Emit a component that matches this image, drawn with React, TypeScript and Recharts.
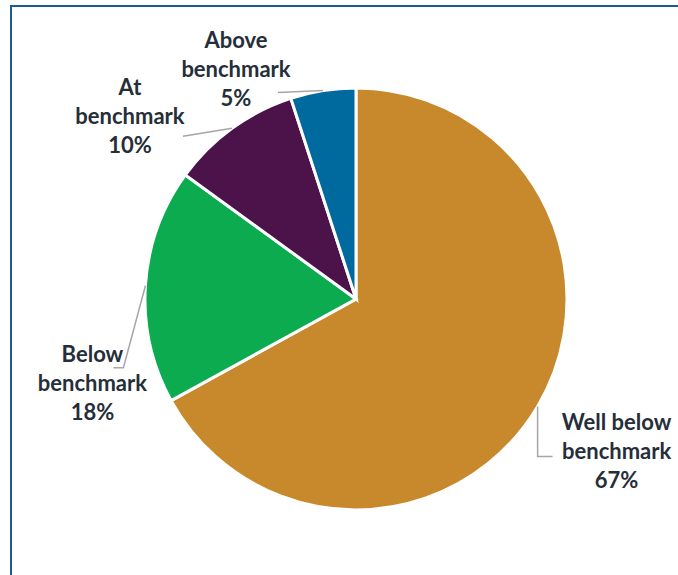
import { Cell, Pie, PieChart } from "recharts";

const categories = ["Well below\nbenchmark", "Below\nbenchmark", "At\nbenchmark", "Above\nbenchmark"];
const shares = [67, 18, 10, 5];
const colors = ["#C8892C", "#0DAB4F", "#4B1349", "#006A9E"];

// label placement relative to the point where the leader leaves the slice edge
const labelOffsets = [
  { tx: 79, ty: 24, line: [[0, 50], [15, 50]] },
  { tx: -53, ty: 76, line: [[-22, 82], [-32, 82]] },
  { tx: -102, ty: -33, line: [[-49, 8]] },
  { tx: -87, ty: -43, line: [[-45, 2]] },
];

const data = categories.map((name, i) => ({ name, value: shares[i] }));
const RADIAN = Math.PI / 180;
const textColor = "#252E39";

function renderLabel(props: any) {
  const { cx, cy, midAngle, outerRadius, index } = props;
  const ex = cx + outerRadius * Math.cos(-midAngle * RADIAN);
  const ey = cy + outerRadius * Math.sin(-midAngle * RADIAN);
  const o = labelOffsets[index];
  const pts = [[ex, ey], ...o.line.map(([dx, dy]) => [ex + dx, ey + dy])];
  const lines = [...data[index].name.split("\n"), `${shares[index]}%`];
  return (
    <g key={`lbl-${index}`}>
      <polyline
        points={pts.map((p) => p.join(",")).join(" ")}
        fill="none"
        stroke="#A6A6A6"
        strokeWidth={1.5}
      />
      <text
        x={ex + o.tx}
        y={ey + o.ty}
        textAnchor="middle"
        fill={textColor}
        fontFamily="Lato, 'Open Sans', sans-serif"
        fontWeight={700}
        fontSize={22}
      >
        {lines.map((l, j) => (
          <tspan key={j} x={ex + o.tx} dy={j === 0 ? 0 : 29}>
            {l}
          </tspan>
        ))}
      </text>
    </g>
  );
}

export default function App() {
  return (
    <div style={{ position: "fixed", left: 0, top: 0, width: 678, height: 575, overflow: "hidden", background: "#fff" }}>
      <div
        style={{
          position: "absolute",
          left: 10,
          top: 5,
          width: 700,
          height: 620,
          border: "2px solid #1B5C8A",
          boxSizing: "border-box",
        }}
      />
      <div style={{ position: "absolute", left: 0, top: 0 }}>
        <PieChart width={678} height={575} margin={{ top: 0, right: 0, bottom: 0, left: 0 }}>
          <Pie
            data={data}
            dataKey="value"
            nameKey="name"
            cx={356}
            cy={299}
            outerRadius={211}
            startAngle={90}
            endAngle={-270}
            stroke="#fff"
            strokeWidth={3}
            label={renderLabel}
            labelLine={false}
            isAnimationActive={false}
          >
            {data.map((d, i) => (
              <Cell key={d.name} fill={colors[i]} />
            ))}
          </Pie>
        </PieChart>
      </div>
    </div>
  );
}
